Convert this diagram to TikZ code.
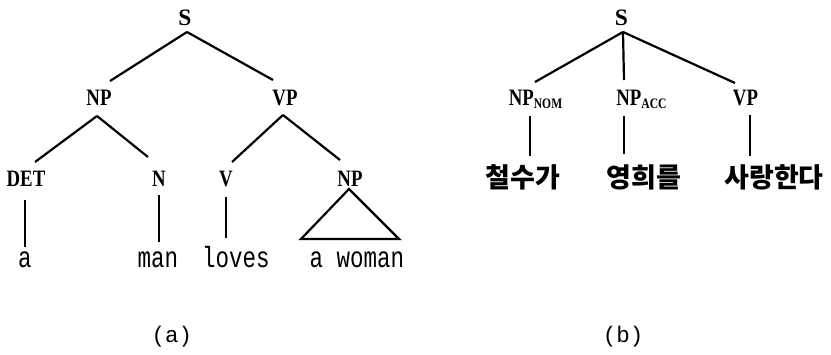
\documentclass[tikz,border=0pt]{standalone}
\usepackage{graphicx}
\usepackage{fontspec}
\usetikzlibrary{calc}
\newfontfamily\labserif{Liberation Serif}
\newfontfamily\wordmono{Liberation Mono}
\newfontfamily\kofont{Noto Sans CJK KR}
\newcommand{\labtxt}[1]{\scalebox{0.8}[1]{\labserif\bfseries\fontsize{23.5}{25}\selectfont #1}}
\newcommand{\roottxt}[1]{{\labserif\bfseries\fontsize{23.5}{25}\selectfont #1}}
\newcommand{\subtxt}[1]{\scalebox{0.8}[1]{\labserif\bfseries\fontsize{14.5}{15}\selectfont #1}}
\newcommand{\wordtxt}[1]{\scalebox{1}[1.3]{\wordmono\fontsize{22.5}{24}\selectfont #1}}
\newcommand{\captxt}[1]{{\wordmono\fontsize{22.5}{24}\selectfont #1}}
\newcommand{\kotxt}[1]{{\kofont\bfseries\fontsize{27}{30}\selectfont #1}}
\begin{document}
\begin{tikzpicture}[x=1pt,y=-1pt,
  every node/.style={inner sep=0pt,outer sep=0pt},
  cat/.style={anchor=base},
  word/.style={anchor=base},
  branch/.style={line width=2.2pt},
  kword/.style={anchor=center}]
\useasboundingbox (0,0) rectangle (831,354);
% ---------- tree (a) ----------
\node[cat] (Sa) at (185,25) {\roottxt{S}};
\node[cat] (NPa) at (99,105) {\labtxt{NP}};
\node[cat] (VPa) at (285,105) {\labtxt{VP}};
\node[cat] (DET) at (26,186) {\labtxt{DET}};
\node[cat] (N) at (159,186) {\labtxt{N}};
\node[cat] (V) at (226,186) {\labtxt{V}};
\node[cat] (NPo) at (350,186) {\labtxt{NP}};
\node[word] (wa) at (25,267) {\wordtxt{a}};
\node[word] (wman) at (158,267) {\wordtxt{man}};
\node[word] (wloves) at (236,267) {\wordtxt{loves}};
\node[word] (wwoman) at (357,267) {\wordtxt{a woman}};
\node[word] (capa) at (172,342) {\captxt{(a)}};
\draw[branch] ($(Sa.base)+(2,7)$) -- ($(NPa.base)+(11,-24)$);
\draw[branch] ($(Sa.base)+(2,7)$) -- ($(VPa.base)+(-12,-25)$);
\draw[branch] ($(NPa.base)+(-2,11)$) -- ($(DET.base)+(9,-24)$);
\draw[branch] ($(NPa.base)+(-2,11)$) -- ($(N.base)+(-11,-29)$);
\draw[branch] ($(VPa.base)+(-2,10)$) -- ($(V.base)+(6,-24)$);
\draw[branch] ($(VPa.base)+(-2,10)$) -- ($(NPo.base)+(-10,-26)$);
\draw[branch] ($(DET.base)+(-1,14)$) -- ($(wa.base)+(0,-20)$);
\draw[branch] ($(N.base)+(0,9)$) -- ($(wman.base)+(1,-25)$);
\draw[branch] ($(V.base)+(0,11)$) -- ($(wloves.base)+(-10,-29)$);
\draw[branch,line join=miter] ($(NPo.base)+(-1,3)$) -- ($(wwoman.base)+(-56,-28)$)
   -- ($(wwoman.base)+(42,-28)$) -- cycle;
% ---------- tree (b) ----------
\node[cat] (Sb) at (621.5,25) {\roottxt{S}};
\node[cat] (NPnom) at (535.5,105) {\labtxt{NP}\raisebox{-3pt}{\subtxt{NOM}}};
\node[cat] (NPacc) at (641.5,105) {\labtxt{NP}\raisebox{-3pt}{\subtxt{ACC}}};
\node[cat] (VPb) at (745.5,105) {\labtxt{VP}};
\node[kword] (k1) at (523,177) {\kotxt{철수가}};
\node[kword] (k2) at (644,177) {\kotxt{영희를}};
\node[kword] (k3) at (774,177) {\kotxt{사랑한다}};
\node[word] (capb) at (623,342) {\captxt{(b)}};
\draw[branch] ($(Sb.base)+(1.5,7)$) -- ($(NPnom.base)+(-0.5,-23)$);
\draw[branch] ($(Sb.base)+(1.5,7)$) -- ($(NPacc.base)+(-17.5,-25)$);
\draw[branch] ($(Sb.base)+(1.5,7)$) -- ($(VPb.base)+(-10.5,-22)$);
\draw[branch] ($(NPnom.base)+(-5.5,11)$) -- ($(k1.center)+(7,-21)$);
\draw[branch] ($(NPacc.base)+(-17.5,11)$) -- ($(k2.center)+(-20,-23)$);
\draw[branch] ($(VPb.base)+(4.5,10)$) -- ($(k3.center)+(-24,-21)$);
\end{tikzpicture}
\end{document}
